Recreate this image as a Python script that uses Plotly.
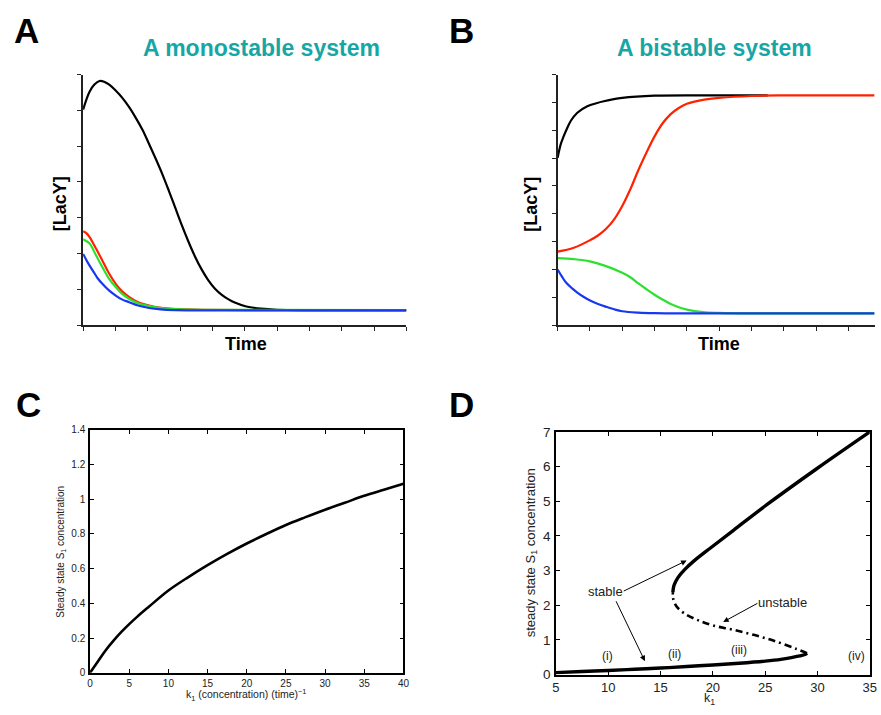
import plotly.graph_objects as go

# ---------------- data ----------------
# Panel A: monostable system (time courses)
a_black_t = [0, 0.2, 0.35, 0.51, 0.65, 0.82, 1.0, 1.22, 1.43, 1.63, 1.84, 2.04, 2.25, 2.45, 2.65, 2.85, 3.05, 3.26,
             3.46, 3.67, 3.87, 4.08, 4.3, 4.5, 4.69, 5.05, 5.5, 6.0, 7.0, 10.0]
a_black_y = [6.02, 6.52, 6.72, 6.82, 6.80, 6.71, 6.56, 6.34, 6.08, 5.79, 5.45, 5.06, 4.64, 4.22, 3.76, 3.28, 2.80, 2.33,
             1.92, 1.55, 1.26, 1.02, 0.84, 0.72, 0.63, 0.52, 0.46, 0.43, 0.42, 0.42]
a_red_t = [0, 0.1, 0.2, 0.4, 0.61, 0.8, 1.02, 1.2, 1.43, 1.7, 2.04, 2.35, 2.65, 3.2, 3.67, 5.0, 10.0]
a_red_y = [2.62, 2.57, 2.46, 2.14, 1.78, 1.45, 1.14, 0.95, 0.78, 0.64, 0.55, 0.49, 0.46, 0.44, 0.43, 0.42, 0.42]
a_green_t = [0, 0.2, 0.4, 0.61, 0.8, 1.02, 1.2, 1.43, 1.7, 2.04, 2.4, 2.85, 4.0, 10.0]
a_green_y = [2.40, 2.28, 1.95, 1.60, 1.30, 1.05, 0.88, 0.73, 0.61, 0.53, 0.48, 0.45, 0.43, 0.42]
a_blue_t = [0, 0.15, 0.31, 0.45, 0.61, 0.8, 1.02, 1.2, 1.43, 1.7, 2.04, 2.4, 2.85, 4.0, 10.0]
a_blue_y = [1.99, 1.74, 1.51, 1.31, 1.14, 0.97, 0.82, 0.72, 0.64, 0.55, 0.48, 0.44, 0.42, 0.41, 0.41]

# Panel B: bistable system (time courses)
b_black_t = [0, 0.05, 0.1, 0.18, 0.26, 0.41, 0.61, 0.92, 1.2, 1.43, 2.0, 3.0, 5.0, 6.5]
b_black_y = [6.01, 6.28, 6.51, 6.76, 6.98, 7.34, 7.63, 7.86, 7.97, 8.04, 8.16, 8.24, 8.25, 8.25]
b_red_t = [0, 0.5, 1.0, 1.25, 1.5, 1.75, 2.0, 2.25, 2.5, 2.75, 3.0, 3.25, 3.5, 3.75, 4.0, 4.5, 5.0, 6.0, 7.0, 9.8]
b_red_y = [2.64, 2.78, 3.05, 3.22, 3.46, 3.80, 4.28, 4.88, 5.57, 6.20, 6.78, 7.25, 7.58, 7.80, 7.95, 8.09, 8.16, 8.23, 8.25, 8.25]
b_green_t = [0, 0.5, 1.0, 1.5, 2.0, 2.25, 2.5, 2.75, 3.0, 3.25, 3.5, 3.75, 4.0, 4.5, 5.0, 6.0, 9.8]
b_green_y = [2.41, 2.37, 2.29, 2.12, 1.88, 1.72, 1.50, 1.29, 1.09, 0.92, 0.76, 0.64, 0.56, 0.47, 0.44, 0.42, 0.42]
b_blue_t = [0, 0.13, 0.26, 0.45, 0.61, 0.8, 1.02, 1.25, 1.53, 1.75, 2.0, 2.5, 3.0, 4.0, 9.8]
b_blue_y = [2.00, 1.75, 1.53, 1.32, 1.17, 1.02, 0.88, 0.76, 0.65, 0.57, 0.50, 0.45, 0.43, 0.42, 0.42]

# Panel C: steady state vs k1 (monostable)
c_k1 = [0, 1, 2, 3, 4, 5, 6, 7.5, 10, 12.5, 15, 17.5, 20, 22.5, 25, 27.5, 30, 32.5, 35, 37.5, 40]
c_s1 = [0, 0.065, 0.13, 0.185, 0.235, 0.28, 0.322, 0.38, 0.474, 0.55, 0.62, 0.685, 0.745, 0.80, 0.852, 0.897,
        0.94, 0.98, 1.02, 1.055, 1.09]

# Panel D: bifurcation diagram (bistable)
d_low_k1 = [5, 7.5, 10, 12.5, 15, 17.5, 20, 22.5, 25, 26.5, 27.5, 28.3, 28.8, 29.0]
d_low_s1 = [0.06, 0.09, 0.12, 0.155, 0.19, 0.235, 0.28, 0.33, 0.39, 0.44, 0.49, 0.54, 0.58, 0.62]
d_unst_k1 = [29.0, 28.0, 26.0, 24.0, 22.0, 20.0, 18.5, 17.2, 16.5, 16.2, 16.18]
d_unst_s1 = [0.62, 0.74, 0.96, 1.14, 1.29, 1.42, 1.58, 1.78, 1.98, 2.2, 2.38]
d_up_k1 = [16.18, 16.28, 16.66, 17.3, 18.2, 19.8, 22.0, 25.16, 29.89, 35.0]
d_up_s1 = [2.38, 2.57, 2.80, 3.03, 3.28, 3.66, 4.17, 4.90, 5.93, 7.0]

region_labels = ["(i)", "(ii)", "(iii)", "(iv)"]
region_k1 = [9.96, 16.3, 22.5, 33.7]
region_s1 = [0.54, 0.61, 0.72, 0.54]

RED = "#FF2200"
GREEN = "#2EE02E"
BLUE = "#1638F0"
TEAL = "#17A6A6"
FONT = "Liberation Sans, Arial, sans-serif"

fig = go.Figure()

def add(x, y, color, xa, ya, width=2.2, dash="solid"):
    fig.add_trace(go.Scatter(x=x, y=y, mode="lines", xaxis=xa, yaxis=ya,
                             line=dict(color=color, width=width, dash=dash,
                                       shape="spline", smoothing=1.0),
                             showlegend=False, hoverinfo="skip"))

add(a_black_t, a_black_y, "black", "x", "y")
add(a_red_t, a_red_y, RED, "x", "y")
add(a_green_t, a_green_y, GREEN, "x", "y")
add(a_blue_t, a_blue_y, BLUE, "x", "y")

add(b_black_t, b_black_y, "black", "x2", "y2")
add(b_green_t, b_green_y, GREEN, "x2", "y2")
add(b_blue_t, b_blue_y, BLUE, "x2", "y2")
add(b_red_t, b_red_y, RED, "x2", "y2")

add(c_k1, c_s1, "black", "x3", "y3", width=2.6)

add(d_low_k1, d_low_s1, "black", "x4", "y4", width=3.4)
add(d_unst_k1, d_unst_s1, "black", "x4", "y4", width=2.6, dash="7px,4px,2px,4px")
add(d_up_k1, d_up_s1, "black", "x4", "y4", width=3.4)

time_axis = dict(showline=True, linecolor="#222", linewidth=1.6, ticks="outside",
                 ticklen=4, tickcolor="#222", tickwidth=1, showticklabels=False,
                 showgrid=False, zeroline=False, dtick=1, tick0=0)

box_axis = dict(showline=True, linecolor="black", linewidth=1.6, mirror="ticks",
                ticks="inside", ticklen=4, tickcolor="black", tickwidth=1,
                showgrid=False, zeroline=False)

fig.update_layout(
    autosize=True,
    margin=dict(l=0, r=0, t=0, b=0),
    paper_bgcolor="white", plot_bgcolor="white",
    font=dict(family=FONT, color="#222"),
    xaxis=dict(time_axis, domain=[0.0908, 0.462], range=[0, 10], anchor="y"),
    yaxis=dict(time_axis, domain=[0.5455, 0.9035], range=[0, 7], anchor="x"),
    xaxis2=dict(time_axis, domain=[0.6356, 1.0], range=[0, 9.82], anchor="y2"),
    yaxis2=dict(time_axis, domain=[0.5455, 0.9035], range=[0, 9], anchor="x2"),
    xaxis3=dict(box_axis, domain=[0.0988, 0.4586], range=[0, 40], dtick=5, anchor="y3",
                tickfont=dict(size=10, color="#222"), ticklabelstandoff=0),
    yaxis3=dict(box_axis, domain=[0.049, 0.3958], range=[0, 1.4], dtick=0.2, anchor="x3",
                tickfont=dict(size=10, color="#222"), ticklabelstandoff=1),
    xaxis4=dict(box_axis, domain=[0.6337, 0.994], range=[5, 35], dtick=5, anchor="y4",
                tickfont=dict(size=13, color="#222"), ticklabelstandoff=0),
    yaxis4=dict(box_axis, domain=[0.0462, 0.393], range=[0, 7], dtick=1, anchor="x4",
                tickfont=dict(size=13.5, color="#222"), ticklabelstandoff=1),
)

ann = []
def txt(text, x, y, size, bold=False, color="black", xref="paper", yref="paper",
        angle=0, xanchor="center", yanchor="middle"):
    ann.append(dict(text=("<b>%s</b>" % text) if bold else text, x=x, y=y,
                    xref=xref, yref=yref, showarrow=False, textangle=angle,
                    xanchor=xanchor, yanchor=yanchor,
                    font=dict(family=FONT, size=size, color=color)))

W, H = 881.0, 715.0
def px(xp, yp):
    return xp / W, 1 - yp / H

# panel letters
for letter, (xx, yy) in zip("ABCD", [(23, 24), (463, 24), (25, 406), (463, 406)]):
    X, Y = px(xx, yy)
    txt(letter, X, Y, 35, bold=True, color="black")

# titles
X, Y = px(260, 42); txt("A monostable system", X, Y, 23, bold=True, color=TEAL)
X, Y = px(719, 42); txt("A bistable system", X, Y, 23, bold=True, color=TEAL)

# axis titles A/B
X, Y = px(56, 201); txt("[LacY]", X, Y, 18, bold=True, angle=-90)
X, Y = px(245, 344); txt("Time", X, Y, 18, bold=True)
X, Y = px(533, 201); txt("[LacY]", X, Y, 18, bold=True, angle=-90)
X, Y = px(723, 344); txt("Time", X, Y, 18, bold=True)

# axis titles C
X, Y = px(58, 556); txt("Steady state S<sub>1</sub> concentration", X, Y, 10, angle=-90, color="#222")
X, Y = px(245, 703); txt("k<sub>1</sub> (concentration) (time)<sup>\u22121</sup>", X, Y, 10.5, color="#222")

# axis titles D
X, Y = px(533, 557); txt("steady state S<sub>1</sub> concentration", X, Y, 13, angle=-90, color="#222")
X, Y = px(714, 707); txt("k<sub>1</sub>", X, Y, 12.5, color="#222")

# D annotations
txt("stable", 9.73, 2.39, 13, xref="x4", yref="y4", color="#222")
txt("unstable", 26.67, 2.08, 13, xref="x4", yref="y4", color="#222")
for lab, kx, sy in zip(region_labels, region_k1, region_s1):
    txt(lab, kx, sy, 12, xref="x4", yref="y4", color="#222")

for (hx, hy, tx, ty) in [(17.49, 3.29, 11.34, 2.39), (13.5, 0.39, 10.68, 2.16), (20.99, 1.52, 24.4, 2.08)]:
    ann.append(dict(x=hx, y=hy, ax=tx, ay=ty, xref="x4", yref="y4", axref="x4", ayref="y4",
                    text="", showarrow=True, arrowhead=2, arrowsize=1.1, arrowwidth=1,
                    arrowcolor="black", standoff=0, startstandoff=0))

fig.update_layout(annotations=ann)
fig.write_html("out.html", config={"displayModeBar": False, "responsive": True},
               default_width="100%", default_height="100%")

# let the figure fill the 881x715 window exactly (no page margin, no scrollbars)
with open("out.html", "r", encoding="utf-8") as f:
    html = f.read()
css = ("<style>html,body{margin:0;padding:0;width:100%;height:100%;overflow:hidden;}"
       "body>div{width:100%;height:100%;}</style>")
html = html.replace("<head>", "<head>" + css, 1)
with open("out.html", "w", encoding="utf-8") as f:
    f.write(html)
